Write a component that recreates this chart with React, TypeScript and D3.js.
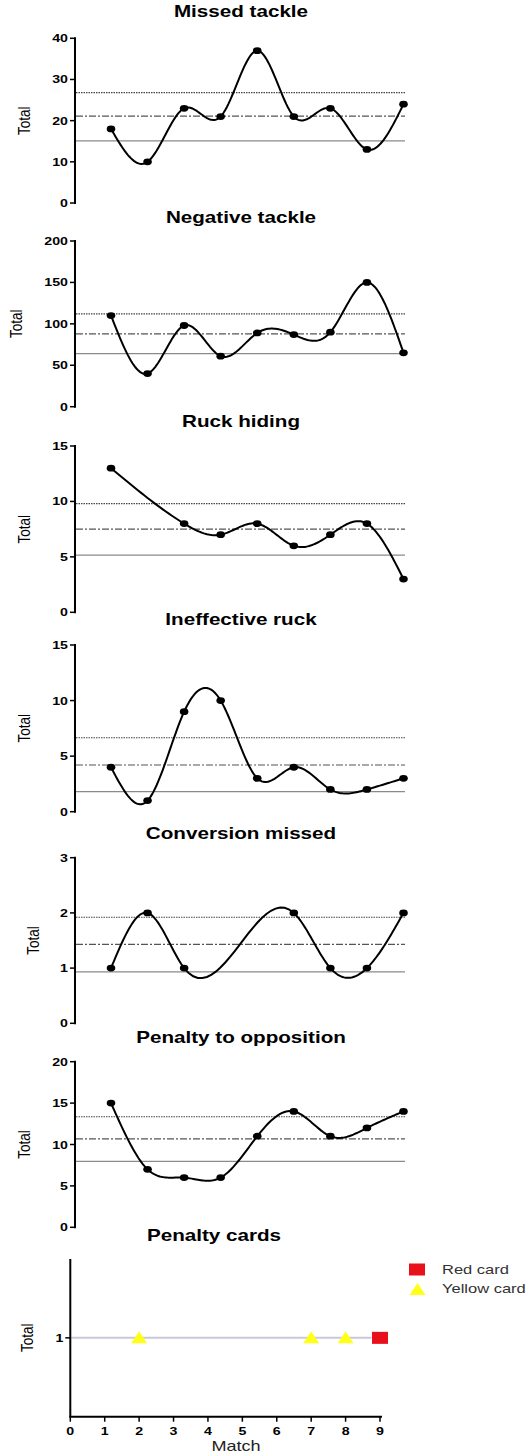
import React from "react";
import * as d3 from "d3";

// Match-by-match totals (matches 1..9); null = no value recorded
const matches = [1, 2, 3, 4, 5, 6, 7, 8, 9];
const missedTackle = [18, 10, 23, 21, 37, 21, 23, 13, 24];
const negativeTackle = [110, 40, 98, 61, 89, 87, 90, 150, 65];
const ruckHiding = [13, null, 8, 7, 8, 6, 7, 8, 3];
const ineffectiveRuck = [4, 1, 9, 10, 3, 4, 2, 2, 3];
const conversionMissed = [1, 2, 1, null, null, 2, 1, 1, 2];
const penaltyToOpposition = [15, 7, 6, 6, 11, 14, 11, 12, 14];

// Reference lines: [lower, mean, upper]
const missedTackleBands = [15.1, 21.1, 26.8];
const negativeTackleBands = [64, 88, 112];
const ruckHidingBands = [5.15, 7.5, 9.8];
const ineffectiveRuckBands = [1.8, 4.2, 6.65];
const conversionMissedBands = [0.93, 1.43, 1.92];
const penaltyToOppositionBands = [7.95, 10.67, 13.35];

// Y tick labels
const missedTackleTicks = [0, 10, 20, 30, 40];
const negativeTackleTicks = [0, 50, 100, 150, 200];
const ruckHidingTicks = [0, 5, 10, 15];
const ineffectiveRuckTicks = [0, 5, 10, 15];
const conversionMissedTicks = [0, 1, 2, 3];
const penaltyToOppositionTicks = [0, 5, 10, 15, 20];

// Penalty cards
const yellowCardMatches = [2, 7, 8];
const redCardMatches = [9];
const cardValue = 1;
const cardTicksX = [0, 1, 2, 3, 4, 5, 6, 7, 8, 9];

const SX = 1.29; // horizontal glyph stretch
const FONT = "'Liberation Sans', Arial, sans-serif";

type Panel = {
  title: string;
  values: (number | null)[];
  bands: number[];
  ticks: number[];
  top: number;
  bottom: number;
  titleY: number;
};

const panels: Panel[] = [
  { title: "Missed tackle", values: missedTackle, bands: missedTackleBands, ticks: missedTackleTicks, top: 38.3, bottom: 203, titleY: 17 },
  { title: "Negative tackle", values: negativeTackle, bands: negativeTackleBands, ticks: negativeTackleTicks, top: 241, bottom: 406.7, titleY: 223 },
  { title: "Ruck hiding", values: ruckHiding, bands: ruckHidingBands, ticks: ruckHidingTicks, top: 446, bottom: 612.3, titleY: 427 },
  { title: "Ineffective ruck", values: ineffectiveRuck, bands: ineffectiveRuckBands, ticks: ineffectiveRuckTicks, top: 645, bottom: 811.7, titleY: 624.5 },
  { title: "Conversion missed", values: conversionMissed, bands: conversionMissedBands, ticks: conversionMissedTicks, top: 857.7, bottom: 1023.3, titleY: 838.5 },
  { title: "Penalty to opposition", values: penaltyToOpposition, bands: penaltyToOppositionBands, ticks: penaltyToOppositionTicks, top: 1061.7, bottom: 1227.3, titleY: 1043 },
];

const AXIS_X = 75;
const LINE_END = 405;
const x = d3.scaleLinear().domain([1, 9]).range([111, 403.5]);

const bandStyles = [
  { stroke: "#8a8a8a", dash: undefined as string | undefined, width: 1.3 },
  { stroke: "#555", dash: "7 2 2 2", width: 1.2 },
  { stroke: "#444", dash: "1.5 1", width: 1.1 },
];

// Natural cubic spline y(x) through the given knots, sampled densely
function splineSamples(pts: { m: number; v: number }[], perSeg = 24) {
  const n = pts.length;
  if (n < 3) return pts.map((p) => [p.m, p.v] as [number, number]);
  const xs = pts.map((p) => p.m);
  const ys = pts.map((p) => p.v);
  const h = d3.range(n - 1).map((i) => xs[i + 1] - xs[i]);
  // tridiagonal system for second derivatives M (M0 = Mn-1 = 0)
  const a: number[] = new Array(n).fill(0);
  const b: number[] = new Array(n).fill(1);
  const c: number[] = new Array(n).fill(0);
  const r: number[] = new Array(n).fill(0);
  for (let i = 1; i < n - 1; i++) {
    a[i] = h[i - 1];
    b[i] = 2 * (h[i - 1] + h[i]);
    c[i] = h[i];
    r[i] = 6 * ((ys[i + 1] - ys[i]) / h[i] - (ys[i] - ys[i - 1]) / h[i - 1]);
  }
  for (let i = 1; i < n; i++) {
    const w = a[i] / b[i - 1];
    b[i] -= w * c[i - 1];
    r[i] -= w * r[i - 1];
  }
  const M: number[] = new Array(n).fill(0);
  M[n - 1] = r[n - 1] / b[n - 1];
  for (let i = n - 2; i >= 0; i--) M[i] = (r[i] - c[i] * M[i + 1]) / b[i];
  const out: [number, number][] = [];
  for (let i = 0; i < n - 1; i++) {
    for (let k = 0; k < perSeg; k++) {
      const t = xs[i] + (h[i] * k) / perSeg;
      const A = (xs[i + 1] - t) / h[i];
      const B = (t - xs[i]) / h[i];
      const yv =
        A * ys[i] +
        B * ys[i + 1] +
        (((A * A * A - A) * M[i] + (B * B * B - B) * M[i + 1]) * h[i] * h[i]) / 6;
      out.push([t, yv]);
    }
  }
  out.push([xs[n - 1], ys[n - 1]]);
  return out;
}

function SText(props: {
  x: number;
  y: number;
  size: number;
  anchor?: "start" | "middle" | "end";
  weight?: string | number;
  rotate?: boolean;
  fill?: string;
  children: React.ReactNode;
}) {
  const { x: tx, y: ty, size, anchor = "start", weight = "normal", rotate, fill = "#000", children } = props;
  return (
    <text
      transform={`translate(${tx},${ty}) scale(${SX},1)${rotate ? " rotate(-90)" : ""}`}
      fontSize={size}
      fontFamily={FONT}
      fontWeight={weight}
      textAnchor={anchor}
      fill={fill}
    >
      {children}
    </text>
  );
}

function LinePanel({ p }: { p: Panel }) {
  const yMax = p.ticks[p.ticks.length - 1];
  const y = d3.scaleLinear().domain([0, yMax]).range([p.bottom, p.top]);
  const pts = matches
    .map((m, i) => ({ m, v: p.values[i] }))
    .filter((d) => d.v !== null) as { m: number; v: number }[];
  const line = d3
    .line<[number, number]>()
    .x((d) => x(d[0]))
    .y((d) => y(d[1]));
  const digits = String(yMax).length;
  const labelX = AXIS_X - 20 - digits * 8.3 - 8;
  return (
    <g>
      <SText x={(AXIS_X + LINE_END) / 2 + 1} y={p.titleY} size={16} weight="bold" anchor="middle">
        {p.title}
      </SText>
      {p.bands.map((b, i) => (
        <line
          key={i}
          x1={AXIS_X + 1}
          x2={LINE_END}
          y1={y(b)}
          y2={y(b)}
          stroke={bandStyles[i].stroke}
          strokeWidth={bandStyles[i].width}
          strokeDasharray={bandStyles[i].dash}
        />
      ))}
      <path d={line(splineSamples(pts)) ?? ""} fill="none" stroke="#000" strokeWidth={2} />
      {pts.map((d) => (
        <ellipse key={d.m} cx={x(d.m)} cy={y(d.v)} rx={4.3} ry={3.4} fill="#000" />
      ))}
      <line x1={AXIS_X} x2={AXIS_X} y1={p.top - 1} y2={p.bottom + 1} stroke="#000" strokeWidth={2} />
      {p.ticks.map((t) => (
        <g key={t}>
          <line x1={AXIS_X - 5} x2={AXIS_X} y1={y(t)} y2={y(t)} stroke="#000" strokeWidth={1.5} />
          <SText x={AXIS_X - 7} y={y(t) + 4} size={11} weight="bold" anchor="end">
            {t}
          </SText>
        </g>
      ))}
      <SText x={labelX} y={(p.top + p.bottom) / 2} size={13.5} anchor="middle" rotate>
        Total
      </SText>
    </g>
  );
}

function CardPanel() {
  const cx = d3.scaleLinear().domain([0, 9]).range([70.3, 380]);
  const cy = d3.scaleLinear().domain([0, 2]).range([1416.7, 1259]);
  const tri = (px: number, py: number) =>
    `M${px},${py - 6.5} L${px + 8},${py + 5.5} L${px - 8},${py + 5.5} Z`;
  return (
    <g>
      <SText x={214} y={1241} size={16} weight="bold" anchor="middle">
        Penalty cards
      </SText>
      <line x1={cx(0) + 1} x2={cx(8.75)} y1={cy(cardValue)} y2={cy(cardValue)} stroke="#c9c9da" strokeWidth={2} />
      {yellowCardMatches.map((m) => (
        <path key={m} d={tri(cx(m), cy(cardValue))} fill="#ffff1a" />
      ))}
      {redCardMatches.map((m) => (
        <rect key={m} x={cx(m) - 8} y={cy(cardValue) - 6} width={16} height={12} fill="#e8101a" />
      ))}
      <line x1={cx(0)} x2={cx(0)} y1={cy(2)} y2={cy(0)} stroke="#000" strokeWidth={2} />
      <line x1={cx(0) - 1} x2={cx(9) + 2} y1={cy(0)} y2={cy(0)} stroke="#000" strokeWidth={2} />
      <line x1={cx(0) - 5} x2={cx(0)} y1={cy(cardValue)} y2={cy(cardValue)} stroke="#000" strokeWidth={1.5} />
      <SText x={cx(0) - 7} y={cy(cardValue) + 4} size={11} weight="bold" anchor="end">
        1
      </SText>
      {cardTicksX.map((t) => (
        <g key={t}>
          <line x1={cx(t)} x2={cx(t)} y1={cy(0)} y2={cy(0) + 5} stroke="#000" strokeWidth={1.5} />
          <SText x={cx(t)} y={1435} size={11} weight="bold" anchor="middle">
            {t}
          </SText>
        </g>
      ))}
      <SText x={236} y={1451} size={14} anchor="middle" fill="#222">
        Match
      </SText>
      <SText x={33} y={(cy(0) + cy(2)) / 2} size={13.5} anchor="middle" rotate>
        Total
      </SText>
      <rect x={409} y={1263.5} width={16} height={12} fill="#e8101a" />
      <path d={tri(417.5, 1289.5)} fill="#ffff1a" />
      <SText x={442} y={1274} size={12.8} fill="#333">
        Red card
      </SText>
      <SText x={442} y={1293} size={12.8} fill="#333">
        Yellow card
      </SText>
    </g>
  );
}

export default function App() {
  return (
    <svg
      width={529}
      height={1456}
      style={{ position: "absolute", left: 0, top: 0, display: "block", background: "#fff" }}
    >
      {panels.map((p) => (
        <LinePanel key={p.title} p={p} />
      ))}
      <CardPanel />
    </svg>
  );
}
